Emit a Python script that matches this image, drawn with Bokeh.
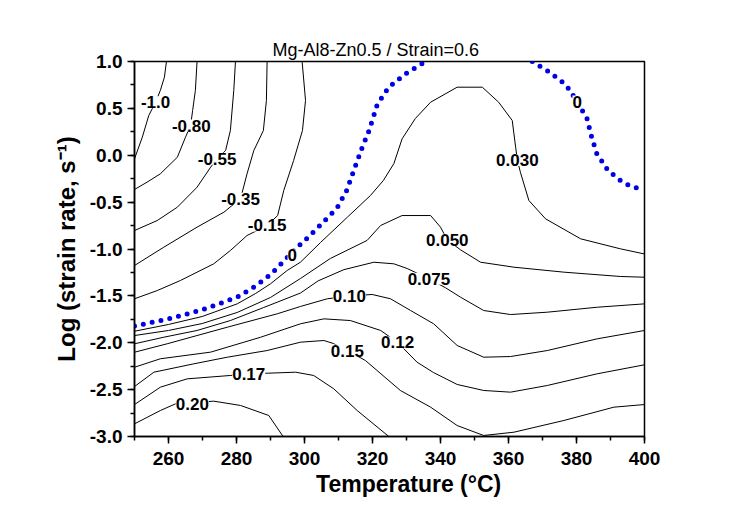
from bokeh.plotting import figure
from bokeh.models import (Range1d, SingleIntervalTicker, NumeralTickFormatter,
                          ColumnDataSource, LabelSet)
from bokeh.core.properties import value
from bokeh.embed import file_html
from bokeh.resources import INLINE

# ---------------- data (temperature in C, log strain rate) ----------------
c_m100_T = [259.4, 258.8, 257.6, 256.2, 254.2, 252.3, 250.0]
c_m100_Y = [1.0, 0.833, 0.691, 0.566, 0.424, 0.193, -0.038]

c_m080_T = [268.4, 267.9, 267.1, 266.5, 265.0, 262.6, 257.6, 253.7, 250.0]
c_m080_Y = [1.0, 0.691, 0.477, 0.317, 0.193, -0.021, -0.198, -0.287, -0.365]

c_m055_T = [279.7, 279.2, 278.2, 276.8, 274.3, 272.4, 268.4, 262.6, 256.7, 250.0]
c_m055_Y = [1.0, 0.691, 0.264, 0.051, -0.038, -0.127, -0.341, -0.554, -0.696, -0.803]

c_m035_T = [289.0, 288.8, 287.9, 285.1, 283.1, 281.2, 276.3, 268.4, 258.6, 250.0]
c_m035_Y = [1.0, 0.584, 0.264, 0.051, -0.198, -0.462, -0.607, -0.767, -0.981, -1.176]

c_m015_T = [299.3, 300.3, 299.4, 296.8, 293.9, 292.1, 289.0, 283.1, 278.2, 273.3, 263.5, 256.7, 250.0]
c_m015_Y = [1.0, 0.584, 0.264, -0.056, -0.376, -0.643, -0.749, -0.856, -1.016, -1.158, -1.336, -1.443, -1.531]

zero_a_T = [250.0, 260.1, 269.9, 280.2, 285.1, 287.7, 290.2, 292.7, 297.9, 300.3, 305.2, 309.6,
            312.4, 315.1, 317.0, 319.0, 321.4, 324.8, 329.7, 335.6]
zero_a_Y = [-1.821, -1.745, -1.649, -1.514, -1.407, -1.336, -1.265, -1.173, -0.981, -0.902, -0.725,
            -0.561, -0.376, -0.102, 0.086, 0.264, 0.541, 0.726, 0.869, 1.0]

zero_b_T = [367.0, 372.1, 376.9, 380.2, 383.1, 384.4, 385.9, 389.3, 393.9, 400.0]
zero_b_Y = [1.0, 0.886, 0.751, 0.573, 0.389, 0.203, 0.022, -0.163, -0.298, -0.381]

c_030_T = [250.0, 260.0, 269.9, 280.2, 285.6, 290.0, 294.9, 298.8, 304.7, 312.6, 319.4, 323.2, 326.3,
           328.7, 332.6, 337.1, 344.9, 352.3, 357.1, 361.1, 362.1, 362.6, 363.5, 366.0, 370.9,
           381.2, 392.9, 400.0]
c_030_Y = [-1.877, -1.805, -1.72, -1.585, -1.475, -1.371, -1.229, -1.141, -0.931, -0.661, -0.429,
           -0.269, -0.088, 0.175, 0.392, 0.566, 0.726, 0.726, 0.566, 0.371, 0.086, -0.051, -0.181,
           -0.483, -0.678, -0.891, -0.998, -1.053]

c_050_T = [250.0, 260.0, 269.9, 280.2, 290.0, 298.8, 307.6, 318.4, 322.4, 328.7, 337.1, 340.0, 342.0,
           345.9, 351.8, 361.6, 376.3, 392.9, 400.0]
c_050_Y = [-1.923, -1.869, -1.795, -1.677, -1.517, -1.315, -1.101, -0.909, -0.749, -0.643, -0.643,
           -0.767, -0.902, -1.009, -1.141, -1.194, -1.247, -1.293, -1.301]

c_075_T = [250.0, 258.6, 268.4, 278.2, 288.0, 298.8, 304.0, 311.6, 320.4, 326.3, 330.2, 336.6, 341.5,
           345.9, 352.7, 360.6, 371.4, 386.1, 400.0]
c_075_Y = [-2.011, -1.941, -1.869, -1.763, -1.624, -1.47, -1.34, -1.22, -1.141, -1.158, -1.208,
           -1.318, -1.414, -1.514, -1.656, -1.699, -1.674, -1.621, -1.585]

c_100_T = [250.0, 259.6, 277.3, 292.0, 298.8, 306.7, 313.2, 319.9, 325.3, 331.2, 338.0, 344.9, 352.7,
           360.6, 371.4, 386.1, 400.0]
c_100_Y = [-2.101, -2.011, -1.834, -1.691, -1.613, -1.531, -1.501, -1.485, -1.531, -1.656, -1.798,
           -2.029, -2.154, -2.147, -2.083, -1.958, -1.869]

c_120_T = [250.0, 257.6, 272.4, 287.1, 298.8, 305.7, 313.5, 322.4, 327.4, 333.1, 337.9, 344.9, 352.7,
           360.6, 371.4, 386.1, 400.0]
c_120_Y = [-2.261, -2.171, -2.1, -1.941, -1.798, -1.745, -1.763, -1.869, -1.997, -2.207, -2.317,
           -2.445, -2.509, -2.527, -2.456, -2.331, -2.235]

c_150_T = [250.0, 255.7, 267.4, 277.3, 289.0, 298.8, 305.7, 308.5, 312.6, 317.9, 328.2, 337.1, 344.9,
           352.7, 361.6, 376.3, 391.0, 400.0]
c_150_Y = [-2.467, -2.314, -2.225, -2.154, -2.083, -1.994, -1.976, -2.008, -2.083, -2.189, -2.509,
           -2.687, -2.883, -2.989, -2.954, -2.829, -2.687, -2.659]

c_170_T = [250.0, 257.6, 265.5, 278.2, 283.6, 289.0, 297.4, 302.7, 308.6, 315.5, 324.8]
c_170_Y = [-2.659, -2.474, -2.385, -2.349, -2.331, -2.325, -2.314, -2.349, -2.491, -2.723, -3.0]

c_200_T = [250.0, 257.6, 262.1, 267.0, 273.3, 281.2, 289.5, 293.7]
c_200_Y = [-2.865, -2.723, -2.651, -2.64, -2.623, -2.669, -2.776, -3.0]

label_text = ["-1.0", "-0.80", "-0.55", "-0.35", "-0.15", "0", "0", "0.030", "0.050",
              "0.075", "0.10", "0.12", "0.15", "0.17", "0.20"]
label_T = [256.2, 266.7, 274.3, 281.2, 289.0, 296.4, 380.2, 362.6, 342.0,
           336.6, 313.2, 327.4, 312.6, 283.6, 267.0]
label_Y = [0.566, 0.317, -0.038, -0.465, -0.749, -1.069, 0.573, -0.051, -0.902,
           -1.318, -1.501, -1.997, -2.083, -2.331, -2.651]

x_ticks_interval = 20
y_ticks_interval = 0.5
title_text = "Mg-Al8-Zn0.5 / Strain=0.6"
x_label = "\u00a0" * 6 + "Temperature (\u00b0C)"
y_label = "Log (strain rate, s\u207b\u00b9)"

# ---------------- figure ----------------
FONT = "Liberation Sans"
p = figure(width=740, height=515, x_range=Range1d(250, 400), y_range=Range1d(-3, 1),
           output_backend="svg", toolbar_location=None, title=title_text,
           min_border_left=134, min_border_right=96, min_border_top=61, min_border_bottom=79)
p.grid.visible = False
p.outline_line_color = "black"
p.outline_line_width = 1.5
p.background_fill_color = "white"
p.border_fill_color = "white"

p.title.align = "left"
p.title.offset = 138
p.title.standoff = 4
p.title.text_font = FONT
p.title.text_font_style = "normal"
p.title.text_font_size = "18px"
p.title.text_color = "black"

p.xaxis.ticker = SingleIntervalTicker(interval=x_ticks_interval, num_minor_ticks=2)
p.yaxis.ticker = SingleIntervalTicker(interval=y_ticks_interval, num_minor_ticks=2)
p.yaxis.formatter = NumeralTickFormatter(format="0.0")
for ax in (p.xaxis[0], p.yaxis[0]):
    ax.axis_line_color = "black"
    ax.axis_line_width = 1.5
    ax.major_tick_in = 0
    ax.major_tick_out = 7
    ax.minor_tick_in = 0
    ax.minor_tick_out = 4
    ax.major_tick_line_width = 1.5
    ax.minor_tick_line_width = 1.5
    ax.major_label_text_font = FONT
    ax.major_label_text_font_style = "bold"
    ax.major_label_text_font_size = "19px"
    ax.major_label_text_color = "black"
    ax.axis_label_text_font = FONT
    ax.axis_label_text_font_style = "bold"
    ax.axis_label_text_color = "black"
p.xaxis.major_label_standoff = 8
p.yaxis.major_label_standoff = 5
p.xaxis.axis_label = x_label
p.xaxis.axis_label_text_font_size = "23px"
p.xaxis.axis_label_standoff = 3
p.yaxis.axis_label = y_label
p.yaxis.axis_label_text_font_size = "24px"
p.yaxis.axis_label_standoff = 7

contours = [
    (c_m100_T, c_m100_Y), (c_m080_T, c_m080_Y), (c_m055_T, c_m055_Y), (c_m035_T, c_m035_Y),
    (c_m015_T, c_m015_Y), (c_030_T, c_030_Y), (c_050_T, c_050_Y), (c_075_T, c_075_Y),
    (c_100_T, c_100_Y), (c_120_T, c_120_Y), (c_150_T, c_150_Y), (c_170_T, c_170_Y),
    (c_200_T, c_200_Y),
]
for xs, ys in contours:
    p.line(xs, ys, line_color="black", line_width=1)

for xs, ys in [(zero_a_T, zero_a_Y), (zero_b_T, zero_b_Y)]:
    p.line(xs, ys, line_color="#0000e6", line_width=5, line_dash="0 9", line_cap="round")

src = ColumnDataSource(dict(x=label_T, y=label_Y, t=label_text))
p.add_layout(LabelSet(x="x", y="y", text="t", source=src, text_align="center",
                      text_baseline="middle", text_font=value(FONT), text_font_style="bold",
                      text_font_size="17px", text_color="black",
                      background_fill_color="white"))

open("out.html", "w").write(file_html(p, INLINE))
